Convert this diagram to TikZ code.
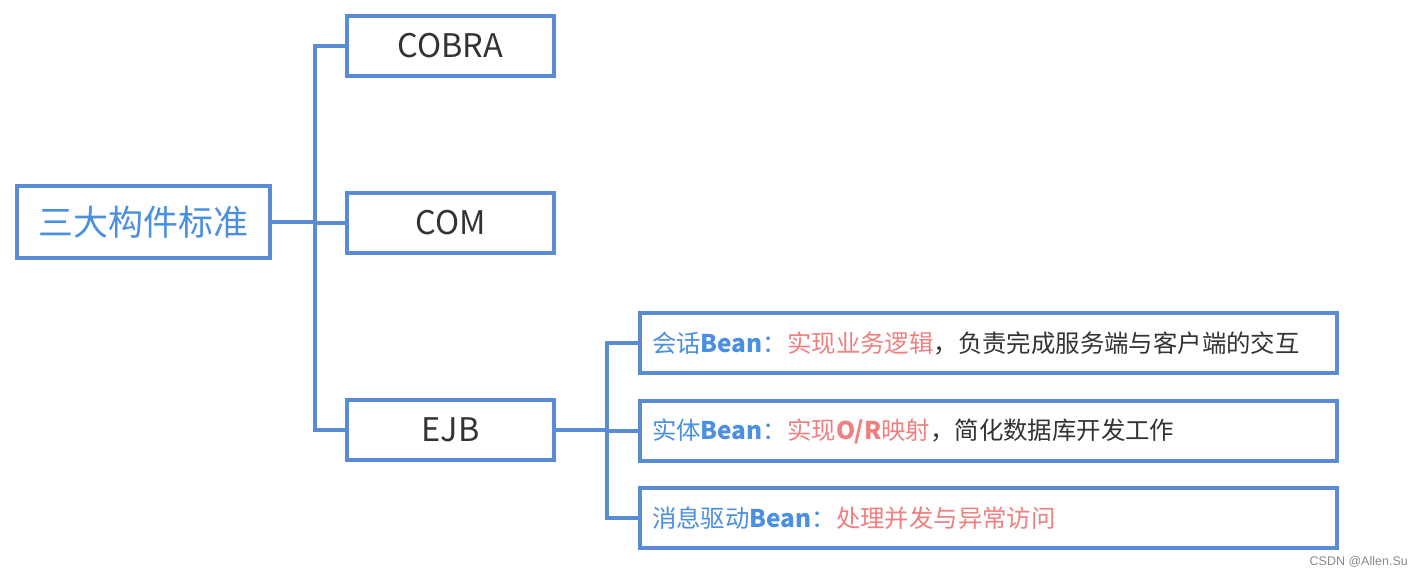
\documentclass[tikz,border=0pt]{standalone}
\usepackage{fontspec}
\setmainfont{Noto Sans CJK SC}
\newfontfamily\wmfont{Liberation Sans}
\definecolor{bblue}{HTML}{5A8CD6}
\definecolor{tblue}{HTML}{4A8FE0}
\definecolor{tred}{HTML}{F07F7F}
\definecolor{tdark}{HTML}{333333}
\definecolor{wm}{HTML}{8A8A8A}
\tikzset{
  box/.style={draw=bblue, line width=3.5pt, fill=white, inner sep=0pt, text=tdark},
  rootbox/.style={box, minimum width=253pt, minimum height=72pt, text=tblue, font=\fontsize{35}{38}\selectfont},
  midbox/.style={box, minimum width=207pt, minimum height=60pt, font=\fontsize{32.5}{35}\selectfont},
  leafbox/.style={box, minimum width=697pt, minimum height=60pt, text width=673pt, inner xsep=12pt, align=left, font=\fontsize{24.4}{28}\selectfont},
  link/.style={draw=bblue, line width=3.5pt}
}
\begin{document}
\begin{tikzpicture}[x=1pt,y=-1pt]
\useasboundingbox (0,0) rectangle (1420,576);
\fill[white] (0,0) rectangle (1420,576);

\node[rootbox] (root) at (143.5,222) {三大构件标准};
\node[midbox] (cobra) at (450.5,46) {COBRA};
\node[midbox] (com) at (450.5,223) {COM};
\node[midbox] (ejb) at (450.5,430) {EJB};

\node[leafbox] (s1) at (988.5,343) {{\color{tblue}会话\textbf{Bean}：}{\color{tred}实现业务逻辑}，负责完成服务端与客户端的交互};
\node[leafbox] (s2) at (988.5,431) {{\color{tblue}实体\textbf{Bean}：}{\color{tred}实现\textbf{O/R}映射}，简化数据库开发工作};
\node[leafbox] (s3) at (988.5,518) {{\color{tblue}消息驱动\textbf{Bean}：}{\color{tred}处理并发与异常访问}};

\coordinate (t1) at (315,222);
\draw[link] (root.east) -- (t1);
\draw[link] (cobra.west) -- (315,46) |- (ejb.west);
\draw[link] (315,223) -- (com.west);

\coordinate (t2) at (607,430);
\draw[link] (ejb.east) -- (t2);
\draw[link] (s1.west) -- (607,343) |- (s3.west);
\draw[link] (607,431) -- (s2.west);

\node[anchor=east, text=wm, font=\wmfont\fontsize{12.5}{14}\selectfont, inner sep=0pt] (wmk) at (1408,562) {CSDN @Allen.Su};
\end{tikzpicture}
\end{document}
